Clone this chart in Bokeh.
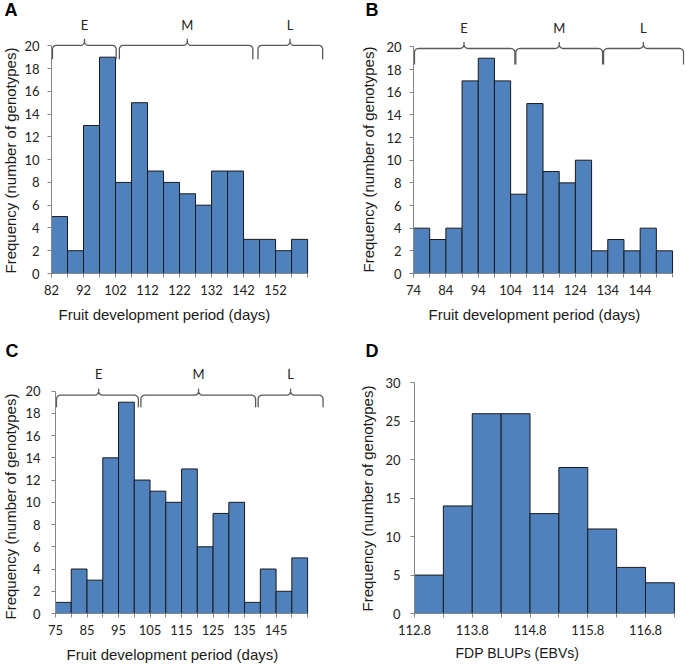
import numpy as np
from bokeh.plotting import figure
from bokeh.models import FixedTicker, Range1d, Title
from bokeh.layouts import column, row
from bokeh.embed import file_html
from bokeh.resources import INLINE
from bokeh.core.properties import value

# ---------------- data ----------------
# Panel A
a_edges = [82, 87, 92, 97, 102, 107, 112, 117, 122, 127, 132, 137, 142, 147, 152, 157, 162]
a_counts = [5, 2, 13, 19, 8, 15, 9, 8, 7, 6, 9, 9, 3, 3, 2, 3]
a_xlabels = [82, 92, 102, 112, 122, 132, 142, 152]
a_yticks = [0, 2, 4, 6, 8, 10, 12, 14, 16, 18, 20]
a_groups = ["E", "M", "L"]
a_br_start = [82.3, 103.2, 146.5]
a_br_mid = [92.3, 124.4, 156.5]
a_br_end = [102.2, 144.9, 166.7]
a_br_level = 20.04
a_group_y = 22.0

# Panel B
b_edges = [74, 79, 84, 89, 94, 99, 104, 109, 114, 119, 124, 129, 134, 139, 144, 149, 154]
b_counts = [4, 3, 4, 17, 19, 17, 7, 15, 9, 8, 10, 2, 3, 2, 4, 2]
b_xlabels = [74, 84, 94, 104, 114, 124, 134, 144]
b_yticks = [0, 2, 4, 6, 8, 10, 12, 14, 16, 18, 20]
b_groups = ["E", "M", "L"]
b_br_start = [74.3, 105.6, 132.7]
b_br_mid = [89.6, 119.0, 145.0]
b_br_end = [105.3, 132.4, 157.4]
b_br_level = 19.86
b_group_y = 21.65

# Panel C
c_edges = [75, 80, 85, 90, 95, 100, 105, 110, 115, 120, 125, 130, 135, 140, 145, 150, 155]
c_counts = [1, 4, 3, 14, 19, 12, 11, 10, 13, 6, 9, 10, 1, 4, 2, 5]
c_xlabels = [75, 85, 95, 105, 115, 125, 135, 145]
c_yticks = [0, 2, 4, 6, 8, 10, 12, 14, 16, 18, 20]
c_groups = ["E", "M", "L"]
c_br_start = [75.3, 102.1, 139.3]
c_br_mid = [88.7, 120.4, 149.6]
c_br_end = [101.3, 138.5, 159.9]
c_br_level = 19.63
c_group_y = 21.51

# Panel D
d_edges = [112.8, 113.3, 113.8, 114.3, 114.8, 115.3, 115.8, 116.3, 116.8, 117.3]
d_counts = [5, 14, 26, 26, 13, 19, 11, 6, 4]
d_xlabels = [112.8, 113.8, 114.8, 115.8, 116.8]
d_yticks = [0, 5, 10, 15, 20, 25, 30]

FDP_TITLE = "Fruit development period (days)"
BLUP_TITLE = "FDP BLUPs (EBVs)"
Y_TITLE = "Frequency (number of genotypes)"

BAR_FILL = "#4F81BD"
AXIS_COL = "#868686"
TEXT_COL = "#222222"
TICK_FONT = "Lato"
TITLE_FONT = "Liberation Sans"


def letter_title(cfg):
    kw = dict(text=cfg["letter"], align="left", offset=cfg["letter_off"],
              vertical_align="top", text_font="Liberation Sans", text_font_style="bold",
              text_font_size="18px", text_color="black")
    stand = cfg.get("letter_standoff", 0)
    try:
        t = Title(standoff=stand, **kw)
        return t, cfg["size"][4]
    except Exception:
        t = Title(standoff=0, **kw)
        return t, cfg["size"][4] - stand


def panel(cfg, edges, counts, xlabels, yticks):
    W, H, ml, mr, mt, mb = cfg["size"]
    title, mt = letter_title(cfg)
    kx, ky = cfg["k"]
    fw, fh = W - ml - mr, H - mt - mb
    y_end = fh / ky
    p = figure(width=W, height=H,
               x_range=Range1d(edges[0], edges[0] + fw / kx),
               y_range=Range1d(yticks[0], y_end),
               output_backend="svg", toolbar_location=None,
               min_border_left=ml, min_border_right=mr,
               min_border_top=mt, min_border_bottom=mb)
    p.grid.visible = False
    p.outline_line_color = None
    p.background_fill_color = "white"
    p.border_fill_color = "white"
    p.title = title

    p.quad(left=edges[:-1], right=edges[1:], bottom=0, top=counts,
           fill_color=BAR_FILL, line_color="#1a1a1a", line_width=1)

    minor = [e for e in edges if all(abs(e - l) > 1e-9 for l in xlabels)]
    xa = p.xaxis[0]
    xa.ticker = FixedTicker(ticks=xlabels, minor_ticks=minor)
    xa.bounds = (edges[0], edges[-1])
    ya = p.yaxis[0]
    ya.ticker = FixedTicker(ticks=yticks)
    ya.bounds = (yticks[0], yticks[-1])
    for ax in (xa, ya):
        ax.axis_line_color = AXIS_COL
        ax.major_tick_line_color = AXIS_COL
        ax.minor_tick_line_color = AXIS_COL
        ax.major_tick_in = 0
        ax.major_tick_out = 4
        ax.minor_tick_in = 0
        ax.minor_tick_out = 4
        ax.major_label_text_font = TICK_FONT
        ax.major_label_text_font_size = "13px"
        ax.major_label_text_color = TEXT_COL
    ya.minor_tick_line_color = None
    xa.major_label_standoff = 7
    ya.major_label_standoff = cfg["ytick_standoff"]

    xt_off, xt_stand, xt_size = cfg["xtitle"]
    p.add_layout(Title(text=cfg["xtitle_text"], align="left", offset=xt_off,
                       vertical_align="bottom", standoff=xt_stand,
                       text_font=TITLE_FONT, text_font_style="normal",
                       text_font_size=xt_size, text_color="#1a1a1a"), "below")
    yt_off, yt_stand = cfg["ytitle"]
    p.add_layout(Title(text=Y_TITLE, align="left", offset=yt_off,
                       vertical_align="top", standoff=yt_stand,
                       text_font=TITLE_FONT, text_font_style="normal",
                       text_font_size="15px", text_color="#1a1a1a"), "left")
    return p, kx, ky, y_end


def braces(p, kx, ky, y_end, starts, mids, ends, level, groups, group_y,
           drop=15.0, point=6.5, r=4.0):
    rx, ry, d, h = r / kx, r / ky, drop / ky, point / ky
    t = np.linspace(0, np.pi / 2, 10)
    for x1, xm, x2 in zip(starts, mids, ends):
        xs = [x1]
        ys = [level - d]
        xs += list(x1 + rx * (1 - np.cos(t)))
        ys += list(level - ry + ry * np.sin(t))
        xs += list(xm - rx + rx * np.sin(t))
        ys += list(level + ry * (1 - np.cos(t)))
        xs += [xm]
        ys += [level + h]
        xs += list(xm + rx * (1 - np.cos(t)))
        ys += list(level + ry * (1 - np.sin(t)))
        xs += list(x2 - rx + rx * np.sin(t))
        ys += list(level - ry * (1 - np.cos(t)))
        xs += [x2]
        ys += [level - d]
        p.line(xs, ys, line_color="#595959", line_width=1.3)
    gy = min(group_y, y_end - 6.0 / ky)
    p.text(x=mids, y=[gy] * len(mids), text=groups,
           text_align="center", text_baseline="middle",
           text_font=value(TICK_FONT), text_font_size="13px", text_color=TEXT_COL)


cfg_a = dict(letter="A", letter_off=-47, letter_standoff=-6, size=(340, 330, 50, 10, 18, 57),
             k=(3.2125, 11.385), ytick_standoff=8, xtitle_text=FDP_TITLE,
             xtitle=(7, 12, "15px"), ytitle=(0, 2))
cfg_b = dict(letter="B", letter_off=-48, letter_standoff=-6, size=(345, 330, 73, 1, 18, 57),
             k=(3.238, 11.33), ytick_standoff=8, xtitle_text=FDP_TITLE,
             xtitle=(15, 12, "15px"), ytitle=(1, 10))
cfg_c = dict(letter="C", letter_off=-50, letter_standoff=0, size=(340, 341, 53, 8, 32, 58),
             k=(3.174, 11.12), ytick_standoff=11, xtitle_text=FDP_TITLE,
             xtitle=(11, 12, "15px"), ytitle=(-6, 3))
cfg_d = dict(letter="D", letter_off=-49, letter_standoff=0, size=(345, 341, 74, 7, 32, 56),
             k=(57.75, 7.745), ytick_standoff=10, xtitle_text=BLUP_TITLE,
             xtitle=(41, 10, "14px"), ytitle=(2, 9))

pa, akx, aky, aye = panel(cfg_a, a_edges, a_counts, a_xlabels, a_yticks)
braces(pa, akx, aky, aye, a_br_start, a_br_mid, a_br_end, a_br_level, a_groups, a_group_y, drop=14)

pb, bkx, bky, bye = panel(cfg_b, b_edges, b_counts, b_xlabels, b_yticks)
braces(pb, bkx, bky, bye, b_br_start, b_br_mid, b_br_end, b_br_level, b_groups, b_group_y, drop=16)

pc, ckx, cky, cye = panel(cfg_c, c_edges, c_counts, c_xlabels, c_yticks)
braces(pc, ckx, cky, cye, c_br_start, c_br_mid, c_br_end, c_br_level, c_groups, c_group_y, drop=12)

pd_, dkx, dky, dye = panel(cfg_d, d_edges, d_counts, d_xlabels, d_yticks)

layout = column(row(pa, pb), row(pc, pd_))

open("out.html", "w").write(file_html(layout, INLINE))
